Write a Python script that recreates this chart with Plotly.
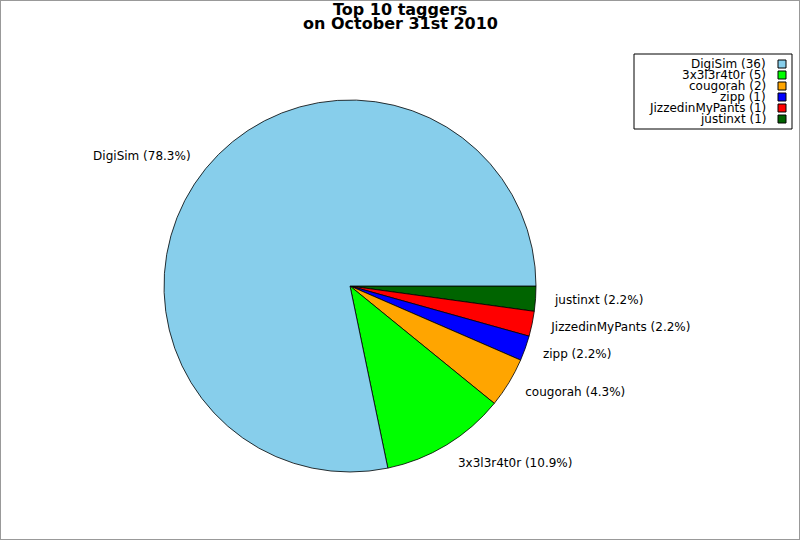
import plotly.graph_objects as go

# Dữ liệu
taggers = ["DigiSim", "3x3l3r4t0r", "cougorah", "zipp", "JizzedinMyPants", "justinxt"]
tag_counts = [36, 5, 2, 1, 1, 1]
slice_colors = ["#87CEEB", "#00FF00", "#FFA500", "#0000FF", "#FF0000", "#006400"]
title_lines = ["Top 10 taggers", "on October 31st 2010"]

FONT = "DejaVu Sans"
CX, CY, R = 350, 286, 186   # tâm và bán kính bánh (pixel)
R_LABEL = 201               # bánh ẩn lớn hơn chỉ để đặt nhãn xa hơn


def pie_domain(r):
    return dict(x=[(CX - r) / 800, (CX + r) / 800],
                y=[(540 - CY - r) / 540, (540 - CY + r) / 540])


fig = go.Figure()

# Bánh xoay ngược chiều kim đồng hồ từ 3 giờ: vẽ theo chiều kim đồng hồ với thứ tự đảo
fig.add_trace(go.Pie(
    labels=taggers[::-1],
    values=tag_counts[::-1],
    sort=False,
    direction="clockwise",
    rotation=90,
    marker=dict(colors=slice_colors[::-1], line=dict(color="black", width=0.8)),
    textinfo="none",
    hoverinfo="label+value+percent",
    domain=pie_domain(R),
    showlegend=False,
))

# Nhãn ngoài: bánh trong suốt
fig.add_trace(go.Pie(
    labels=taggers[::-1],
    values=tag_counts[::-1],
    sort=False,
    direction="clockwise",
    rotation=90,
    marker=dict(colors=["rgba(0,0,0,0)"] * len(taggers), line=dict(width=0)),
    texttemplate="%{label} (%{percent:.1%})",
    textposition="outside",
    textfont=dict(family=FONT, size=12, color="black"),
    hoverinfo="skip",
    domain=pie_domain(R_LABEL),
    showlegend=False,
))

# Tiêu đề 2 dòng
annotations = []
for i, line in enumerate(title_lines):
    annotations.append(dict(
        text="<b>" + line + "</b>", x=0.5, y=1 - (10 + 13.5 * i) / 540,
        xref="paper", yref="paper", xanchor="center", yanchor="middle",
        showarrow=False, font=dict(family=FONT, size=16, color="black"),
    ))

# Legend tự vẽ: chữ bên trái, ô màu bên phải
shapes = [
    dict(type="rect", xref="paper", yref="paper", x0=0, y0=0, x1=1, y1=1,
         line=dict(color="#999999", width=2)),
    dict(type="rect", xref="paper", yref="paper",
         x0=634 / 800, x1=792 / 800, y0=1 - 129 / 540, y1=1 - 54 / 540,
         line=dict(color="black", width=1), fillcolor="white"),
]
for i, (name, cnt, col) in enumerate(zip(taggers, tag_counts, slice_colors)):
    yc = 64 + 11 * i
    annotations.append(dict(
        text=f"{name} ({cnt})", x=768 / 800, y=1 - yc / 540,
        xref="paper", yref="paper", xanchor="right", yanchor="middle",
        showarrow=False, font=dict(family=FONT, size=12, color="black"),
    ))
    shapes.append(dict(
        type="rect", xref="paper", yref="paper",
        x0=778 / 800, x1=786 / 800, y0=1 - (yc + 4) / 540, y1=1 - (yc - 4) / 540,
        line=dict(color="black", width=1), fillcolor=col,
    ))

fig.update_layout(
    width=800, height=540,
    margin=dict(l=0, r=0, t=0, b=0),
    paper_bgcolor="white", plot_bgcolor="white",
    annotations=annotations, shapes=shapes,
    font=dict(family=FONT),
)

fig.write_html("out.html", config={"displayModeBar": False},
               post_script="document.body.style.margin='0';")
